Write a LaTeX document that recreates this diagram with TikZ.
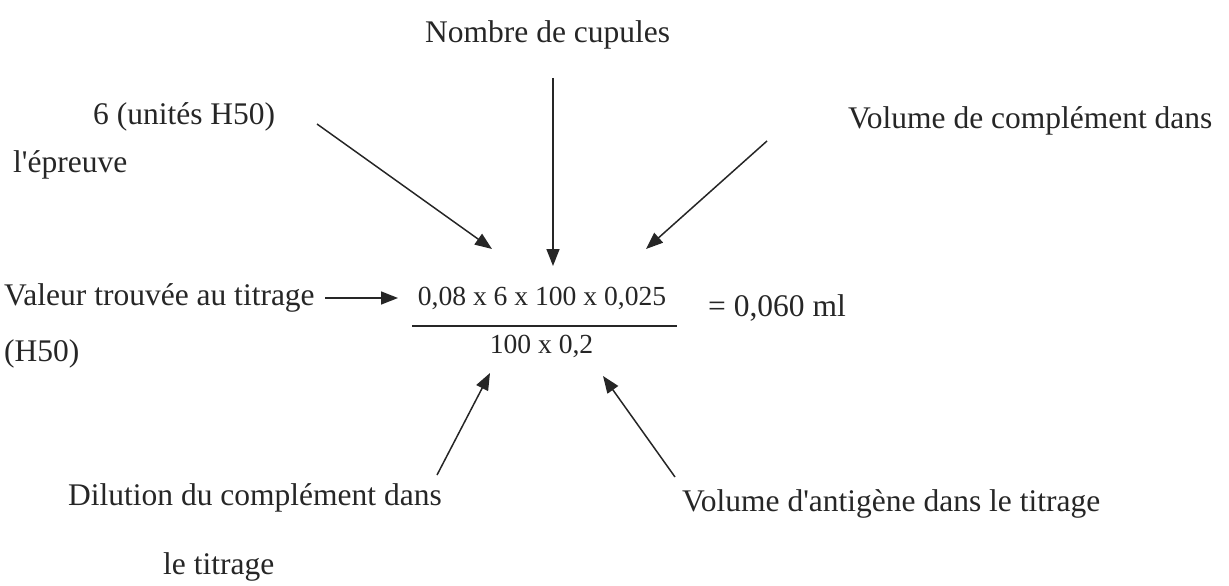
\documentclass[tikz,border=0pt]{standalone}
\usepackage{fontspec}
\setmainfont{Liberation Serif}
\usepackage{xcolor}
\definecolor{ink}{HTML}{262626}
\usetikzlibrary{arrows.meta,positioning}

\begin{document}
\begin{tikzpicture}[
		x=1pt, y=-1pt,
		lbl/.style={anchor=base west, inner sep=0pt, text=ink, font=\fontsize{31.5}{36}\selectfont},
		frm/.style={anchor=base, inner sep=0pt, text=ink, font=\fontsize{27.6}{32}\selectfont},
		arr/.style={draw=ink, line width=1.5pt, -{Triangle[length=17pt, width=13pt]}}
	]
		\useasboundingbox (0,0) rectangle (1229,586);

		% the fraction
		\node[frm] (num) at (542,305) {0,08 x 6 x 100 x 0,025};
		\node[frm] (den) at (541.5,353) {100 x 0,2};
		\node[lbl] (res) at (708,316) {= 0,060 ml};
		\coordinate (barL) at (412,326);
		\coordinate (barR) at (677,326);
		\draw[ink, line width=1.8pt] (barL) -- (barR);

		% labels
		\node[lbl] (cupules) at (425,43) {Nombre de cupules};
		\node[lbl] (unites) at (93,124) {6 (unités H50)};
		\node[lbl] (epreuve) at (13,172) {l\textquotesingle épreuve};
		\node[lbl] (volcomp) at (848,128) {Volume de complément dans};
		\node[lbl] (valeur) at (4,305) {Valeur trouvée au titrage};
		\node[lbl] (hcinq) at (4,361) {(H50)};
		\node[lbl] (dilution) at (68,505) {Dilution du complément dans};
		\node[lbl] (titrage) at (163,574) {le titrage};
		\node[lbl] (volag) at (682,511) {Volume d\textquotesingle antigène dans le titrage};

		% arrows towards the fraction
		\coordinate (cupT) at (553,78);
		\coordinate (cupH) at (553,266);
		\coordinate (uniT) at (317,124);
		\coordinate (uniH) at (492,249);
		\coordinate (volT) at (767,141);
		\coordinate (volH) at (646,249);
		\coordinate (valT) at (325,298);
		\coordinate (valH) at (398,298);
		\coordinate (dilT) at (437,475);
		\coordinate (dilH) at (490,373);
		\coordinate (agT) at (675,477);
		\coordinate (agH) at (603,376);

		\draw[arr] (cupT) -- (cupH);
		\draw[arr] (uniT) -- (uniH);
		\draw[arr] (volT) -- (volH);
		\draw[arr] (valT) -- (valH);
		\draw[arr] (dilT) -- (dilH);
		\draw[arr] (agT) -- (agH);
	\end{tikzpicture}
\end{document}
